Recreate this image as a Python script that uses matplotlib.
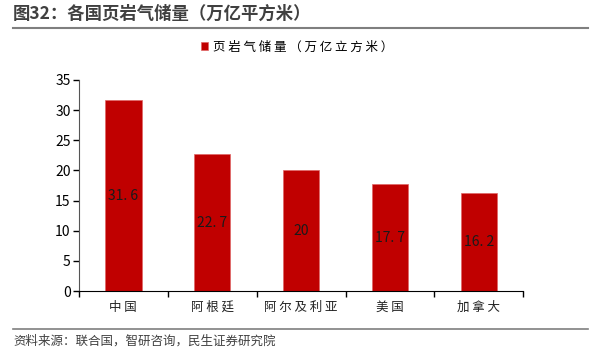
import numpy as np
import matplotlib.pyplot as plt
from matplotlib.lines import Line2D

plt.rcParams['font.family'] = ['Noto Sans CJK SC', 'DejaVu Sans']

# 数据
paises = ['中国', '阿根廷', '阿尔及利亚', '美国', '加拿大']
reservas = [31.6, 22.7, 20, 17.7, 16.2]
etiquetas = ['31.6', '22.7', '20', '17.7', '16.2']
serie = '页岩气储量（万亿立方米）'

rojo = '#C00000'


def espaciar(s):
    # en el original los caracteres van separados
    return ' '.join(s)


fig = plt.figure(figsize=(5.98, 3.58), dpi=100)
ax = fig.add_axes([0.132, 0.187, 0.743, 0.590])

x = np.arange(len(paises))
barras = ax.bar(x, reservas, width=0.41, color=rojo, edgecolor='#e06666', linewidth=0.5,
                label=espaciar(serie))
for b, t in zip(barras, etiquetas):
    ax.text(b.get_x() + b.get_width() / 2, b.get_height() / 2, t.replace('.', '. '),
            ha='center', va='center', fontsize=10, color='#1a1a1a')

ax.set_xlim(-0.5, len(paises) - 0.5)
ax.set_ylim(0, 35)
ax.set_yticks(range(0, 36, 5))
ax.tick_params(axis='y', labelsize=10, length=4, width=1, pad=2, colors='#000000')
ax.set_xticks(np.arange(-0.5, len(paises), 1))
ax.set_xticklabels([])
ax.set_xticks(x, minor=True)
ax.set_xticklabels([espaciar(p) for p in paises], minor=True, fontsize=9, color='#222222')
ax.tick_params(axis='x', which='major', length=4, width=1)
ax.tick_params(axis='x', which='minor', length=0, pad=7)
for s in ['top', 'right']:
    ax.spines[s].set_visible(False)
ax.spines['left'].set_color('#555555')
ax.spines['bottom'].set_color('#000000')

fig.legend(loc='center', bbox_to_anchor=(0.497, 1 - 47 / 358), frameon=False,
           fontsize=9, handlelength=0.6, handleheight=0.6, handletextpad=0.4)

# título y fuente
fig.text(13 / 598, 1 - 14 / 358, '图32：各国页岩气储量（万亿平方米）', fontsize=12.5,
         fontweight='bold', color='#404040', va='center', ha='left')
fig.add_artist(Line2D([13 / 598, 588 / 598], [1 - 28 / 358, 1 - 28 / 358],
                      color='#7f7f7f', lw=1.5))
fig.add_artist(Line2D([13 / 598, 588 / 598], [1 - 329 / 358, 1 - 329 / 358],
                      color='#7f7f7f', lw=1.2))
fig.text(13 / 598, 1 - 341 / 358, '资料来源：联合国，智研咨询，民生证券研究院', fontsize=9,
         color='#404040', va='center', ha='left')

fig.savefig('out.png', dpi=100)
